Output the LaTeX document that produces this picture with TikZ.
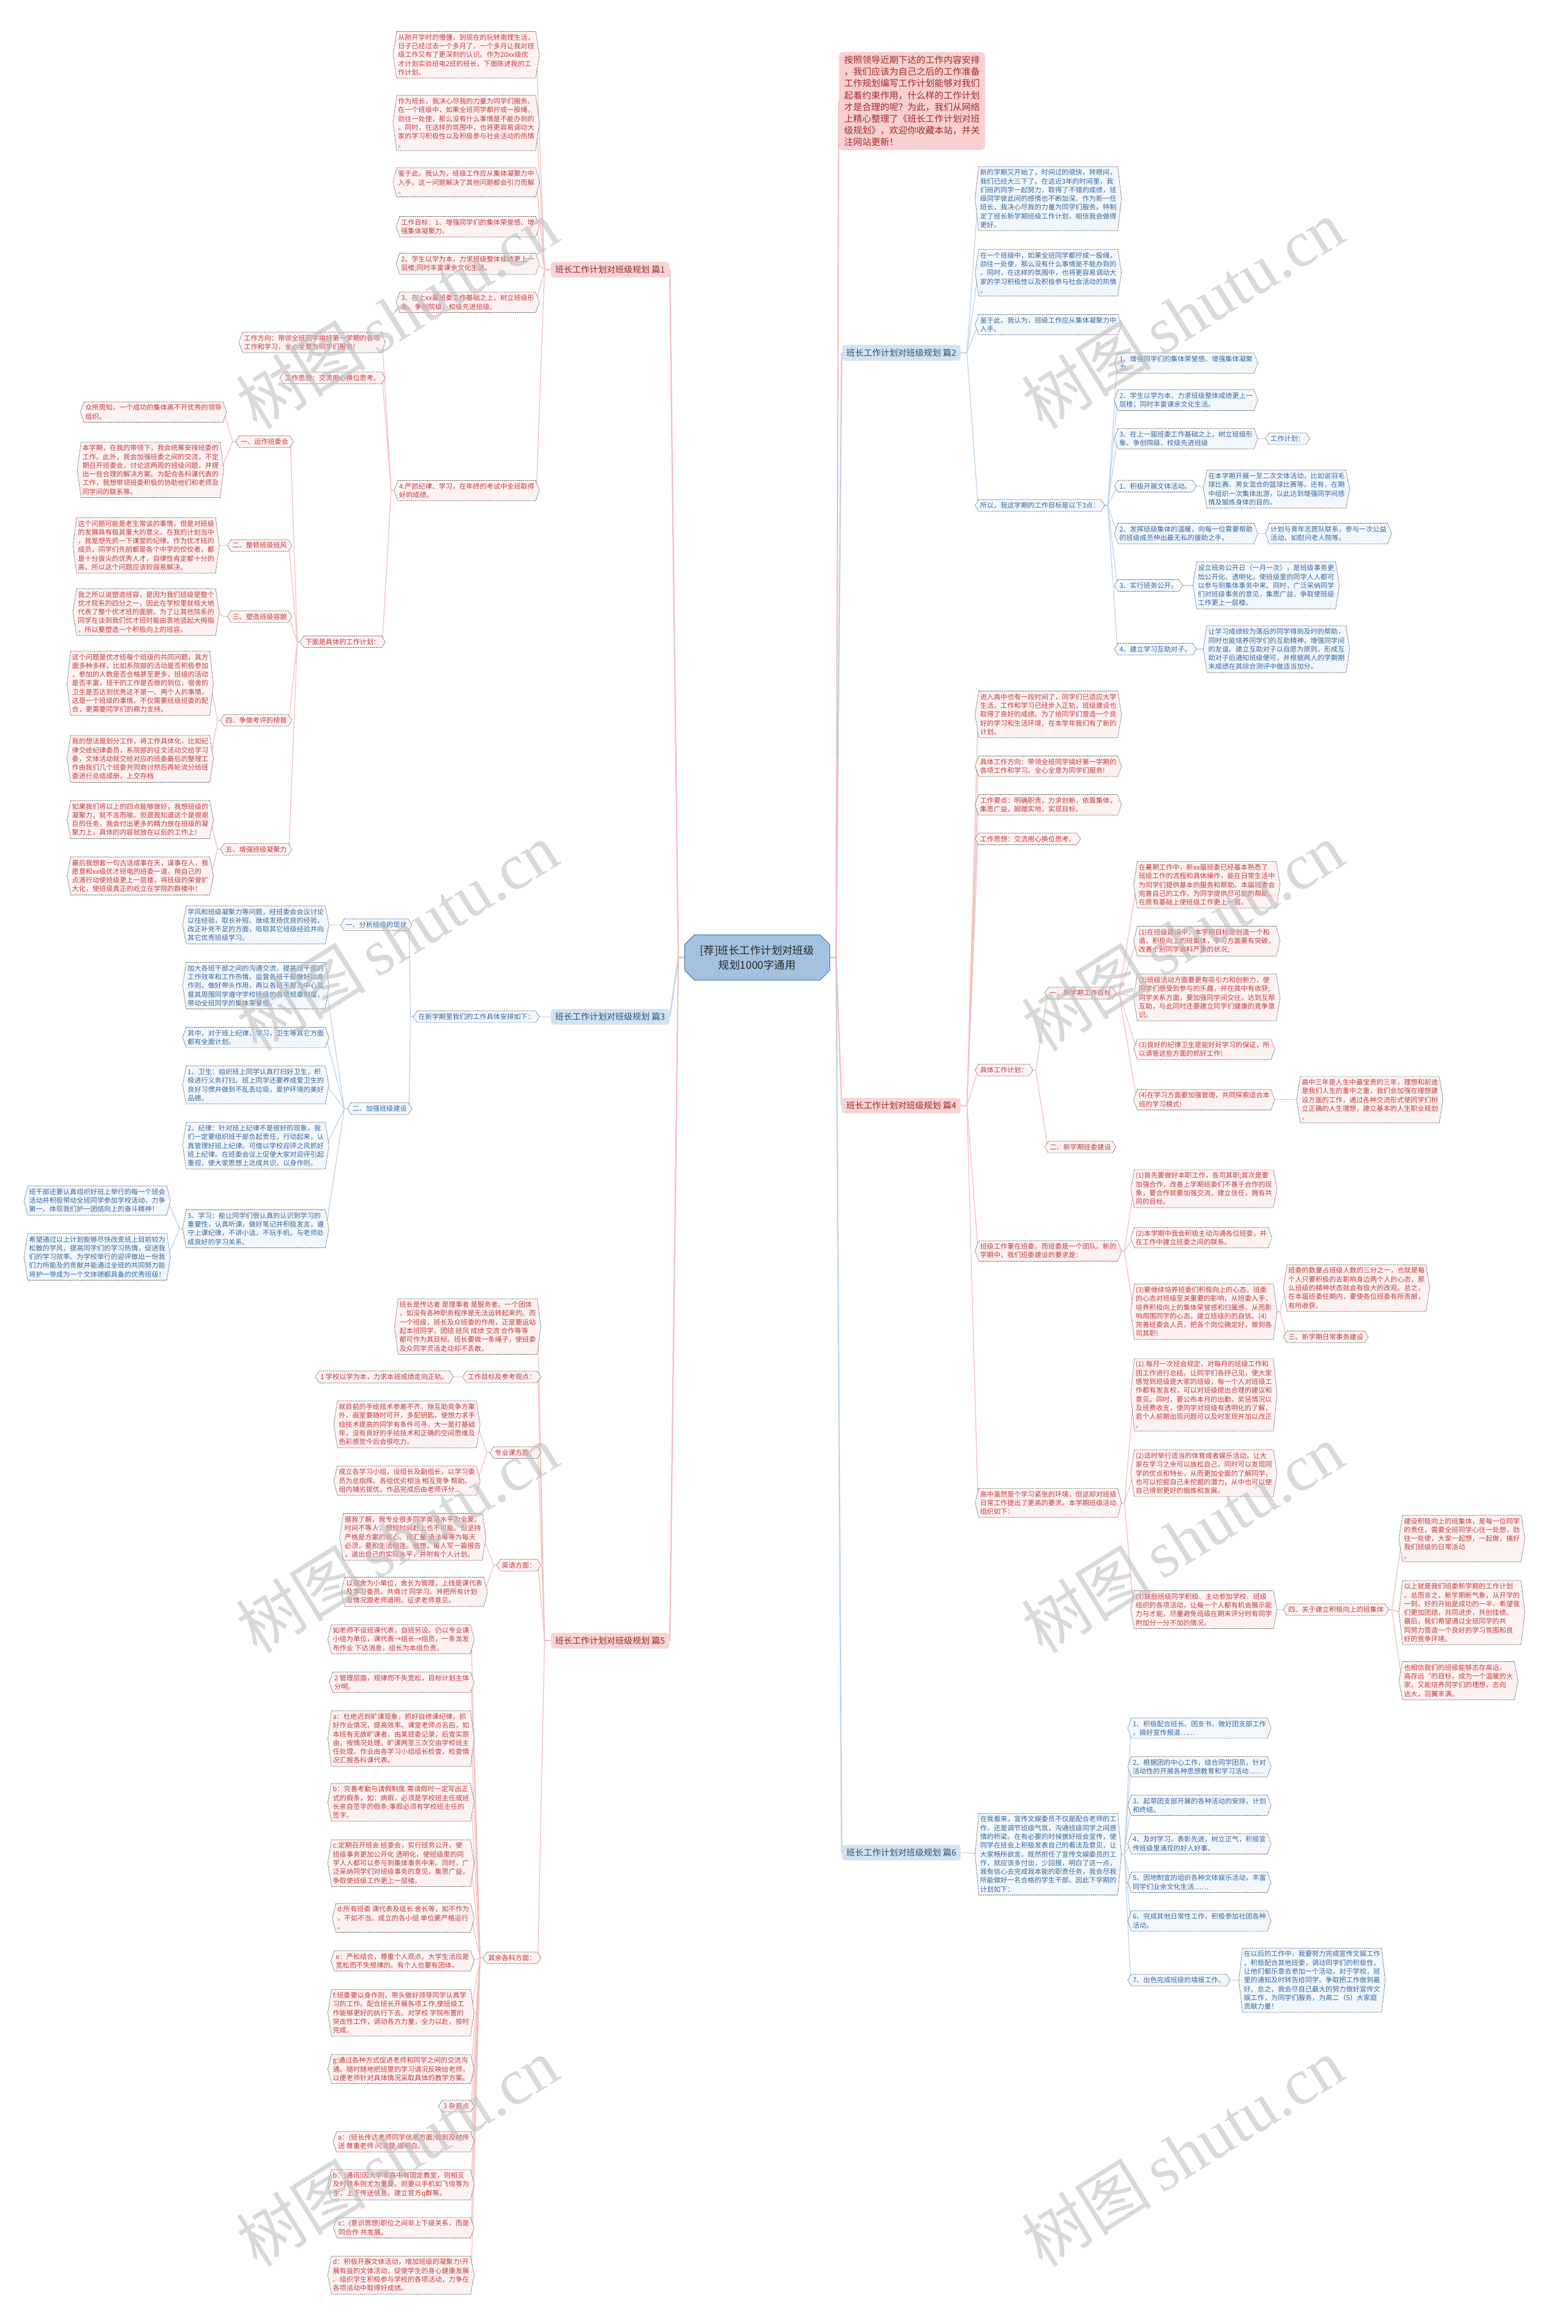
\documentclass[tikz,border=0pt]{standalone}
\usepackage{fontspec}
\setmainfont{Noto Sans CJK SC}
\newfontfamily\wmlatin{Liberation Serif}
\usetikzlibrary{backgrounds,shapes.misc}

\definecolor{pinktext}{HTML}{C83A3A}
\definecolor{bluetext}{HTML}{3568A0}
\definecolor{pinkfill}{HTML}{FDF2F2}
\definecolor{bluefill}{HTML}{F2F7FC}
\definecolor{pinkedge}{HTML}{F2BDBD}
\definecolor{blueedge}{HTML}{BCD2E6}
\definecolor{boxline}{HTML}{555555}
\definecolor{tagpink}{HTML}{F9D4D4}
\definecolor{tagpinktext}{HTML}{8E2B2B}
\definecolor{tagblue}{HTML}{D3E3F2}
\definecolor{tagbluetext}{HTML}{2D4F73}
\definecolor{rootfill}{HTML}{A4C2DF}
\definecolor{rootline}{HTML}{4F82C2}
\definecolor{introfill}{HTML}{F8D0D0}
\definecolor{introtext}{HTML}{A12A2A}

\newcommand{\boxfont}{\fontsize{4.6}{5.9}\selectfont}
\newcommand{\tagfont}{\fontsize{5.8}{7}\selectfont}
% hexagon frame round a text node
\newcommand{\hexof}[2]{\path[#1] ([xshift=0.5pt]#2.north west) -- ([xshift=-0.5pt]#2.north east) -- ([xshift=2pt]#2.east) -- ([xshift=-0.5pt]#2.south east) -- ([xshift=0.5pt]#2.south west) -- ([xshift=-2pt]#2.west) -- cycle;}

\tikzset{
  txt/.style={inner xsep=1.2pt, inner ysep=1.6pt, align=left, font=\boxfont},
  pinktxt/.style={txt, text=pinktext},
  bluetxt/.style={txt, text=bluetext},
  pinkhex/.style={fill=pinkfill, draw=boxline, line width=0.3pt, dash pattern=on 0.8pt off 0.5pt},
  bluehex/.style={fill=bluefill, draw=boxline, line width=0.3pt, dash pattern=on 0.8pt off 0.5pt},
  pinkline/.style={draw=pinkedge, line width=0.5pt},
  blueline/.style={draw=blueedge, line width=0.5pt},
  pinktag/.style={fill=tagpink, text=tagpinktext, rounded corners=2pt, inner xsep=3pt, inner ysep=2.6pt, font=\tagfont},
  bluetag/.style={fill=tagblue, text=tagbluetext, rounded corners=2pt, inner xsep=3pt, inner ysep=2.6pt, font=\tagfont},
  rootbox/.style={chamfered rectangle, chamfered rectangle xsep=3pt, fill=rootfill, draw=rootline, line width=0.5pt, minimum width=98pt, minimum height=28pt, align=center, text=black!85, font=\fontsize{7.2}{10}\selectfont},
  introbox/.style={fill=introfill, text=introtext, rounded corners=2.5pt, inner xsep=3.5pt, inner ysep=2.5pt, align=left, font=\fontsize{6.1}{7.9}\selectfont},
  watermark/.style={rotate=32, text=black!25, opacity=0.6, font=\fontsize{44}{44}\selectfont}
}

\begin{document}
\begin{tikzpicture}[x=1pt,y=-1pt]
\useasboundingbox (0,0) rectangle (1058,1568);

% centre and intro
\node[rootbox] (root) at (511,646) {[荐]班长工作计划对班级\\规划1000字通用};
\node[introbox, anchor=north west] (intro) at (566,35) {按照领导近期下达的工作内容安排\\，我们应该为自己之后的工作准备\\工作规划编写工作计划能够对我们\\起着约束作用，什么样的工作计划\\才是合理的呢？为此，我们从网络\\上精心整理了《班长工作计划对班\\级规划》，欢迎你收藏本站，并关\\注网站更新！};

% ---- 篇1 ----
\node[pinktag, anchor=east] (p1) at (452,182) {班长工作计划对班级规划 篇1};
\node[pinktxt, anchor=east] (a1) at (362,37) {从刚开学时的懵懂，到现在的玩转南理生活，\\日子已经过去一个多月了。一个多月让我对班\\级工作又有了更深刻的认识。作为20xx级优\\才计划实验班电2班的班长，下面陈述我的工\\作计划。};
\node[pinktxt, anchor=east] (a2) at (362,83) {作为班长，我决心尽我的力量为同学们服务。\\在一个班级中，如果全班同学都拧成一股绳，\\劲往一处使，那么没有什么事情是不能办到的\\。同时，在这样的氛围中，也将更容易调动大\\家的学习积极性以及积极参与社会活动的热情\\。};
\node[pinktxt, anchor=east] (a3) at (362,123) {鉴于此，我认为，班级工作应从集体凝聚力中\\入手。这一问题解决了其他问题都会引刃而解\\。};
\node[pinktxt, anchor=east] (a4) at (362,153) {工作目标：1、增强同学们的集体荣誉感、增\\强集体凝聚力。};
\node[pinktxt, anchor=east] (a5) at (362,178) {2、学生以学为本，力求班级整体成绩更上一\\层楼;同时丰富课余文化生活。};
\node[pinktxt, anchor=east] (a6) at (362,204) {3、在上xx届班委工作基础之上，树立班级形\\象、争创院级、校级先进班级。};
\node[pinktxt, anchor=east] (a7) at (362,331) {4.严抓纪律、学习，在年终的考试中全班取得\\好的成绩。};
\node[pinktxt, anchor=east] (b1) at (258,231) {工作方向：带领全班同学搞好第一学期的各项\\工作和学习，全心全意为同学们服务!};
\node[pinktxt, anchor=east] (b2) at (258,255) {工作思想：交流用心换位思考。};
\node[pinktxt, anchor=east] (b3) at (258,433) {下面是具体的工作计划：};
\node[pinktxt, anchor=east] (c1) at (196,298) {一、运作班委会};
\node[pinktxt, anchor=east] (c2) at (195,368) {二、整顿班级班风};
\node[pinktxt, anchor=east] (c3) at (195,416) {三、塑造班级容貌};
\node[pinktxt, anchor=east] (c4) at (195,486) {四、争做考评的榜首};
\node[pinktxt, anchor=east] (c5) at (195,573) {五、增强班级凝聚力};
\node[pinktxt, anchor=east] (d11) at (151,278) {众所周知，一个成功的集体离不开优秀的领导\\组织。};
\node[pinktxt, anchor=east] (d12) at (149,317) {本学期，在我的带领下，我会统筹安排班委的\\工作。此外，我会加强班委之间的交流，不定\\期召开班委会，讨论这两周的班级问题，并提\\出一些合理的解决方案。为配合各科课代表的\\工作，我想带领班委积极的协助他们和老师及\\同学间的联系等。};
\node[pinktxt, anchor=east] (d21) at (146,368) {这个问题可能是老生常谈的事情，但是对班级\\的发展具有极其重大的意义。在我的计划当中\\，我是想先抓一下课堂的纪律。作为优才班的\\成员，同学们先前都是各个中学的佼佼者，都\\是十分拔尖的优秀人才，自律性肯定都十分的\\高，所以这个问题应该较容易解决。};
\node[pinktxt, anchor=east] (d31) at (146,413) {我之所以说塑造班容，是因为我们班级是整个\\优才院系的四分之一，因此在学校里就极大地\\代表了整个优才班的面貌。为了让其他院系的\\同学在谈到我们优才班时能由衷地竖起大拇指\\，所以要塑造一个积极向上的班容。};
\node[pinktxt, anchor=east] (d41) at (142,461) {这个问题是优才班每个班级的共同问题，其方\\面多种多样，比如系院部的活动是否积极参加\\，参加的人数是否合格甚至更多，班级的活动\\是否丰富，班干的工作是否做的到位，宿舍的\\卫生是否达到优秀这不是一、两个人的事情，\\这是一个班级的事情。不仅需要班级班委的配\\合，更需要同学们的鼎力支持。};
\node[pinktxt, anchor=east] (d42) at (142,512) {我的想法是划分工作，将工作具体化，比如纪\\律交给纪律委员，系院部的征文活动交给学习\\委，文体活动就交给对应的班委最后的整理工\\作由我们几个班委共同商讨然后再轮流分给班\\委进行总结成册，上交存档};
\node[pinktxt, anchor=east] (d51) at (142,553) {如果我们将以上的四点能够做好，我想班级的\\凝聚力，就不言而喻。但是我知道这个是很艰\\巨的任务，我会付出更多的精力放在班级的凝\\聚力上，具体的内容就放在以后的工作上!};
\node[pinktxt, anchor=east] (d52) at (142,591) {最后我想套一句古话成事在天，谋事在人，我\\愿意和xx级优才班电的班委一道，用自己的\\点滴行动使班级更上一层楼，将班级的荣誉扩\\大化，使班级真正的屹立在学院的群楼中！};

% ---- 篇2 ----
\node[bluetag, anchor=west] (p2) at (568,238) {班长工作计划对班级规划 篇2};
\node[bluetxt, anchor=west] (e1) at (660,134) {新的学期又开始了，时间过的很快，转眼间，\\我们已经大三下了。在这近3年的时间里，我\\们班的同学一起努力，取得了不错的成绩，班\\级同学彼此间的感情也不断加深。作为新一任\\班长，我决心尽我的力量为同学们服务。特制\\定了班长新学期班级工作计划，相信我会做得\\更好。};
\node[bluetxt, anchor=west] (e2) at (660,184) {在一个班级中，如果全班同学都拧成一股绳，\\劲往一处使，那么没有什么事情是不能办到的\\。同时，在这样的氛围中，也将更容易调动大\\家的学习积极性以及积极参与社会活动的热情\\。};
\node[bluetxt, anchor=west] (e3) at (660,219) {鉴于此，我认为，班级工作应从集体凝聚力中\\入手。};
\node[bluetxt, anchor=west] (e4) at (660,341) {所以，我这学期的工作目标是以下3点：};
\node[bluetxt, anchor=west] (f1) at (754,245) {1、增强同学们的集体荣誉感、增强集体凝聚\\力。};
\node[bluetxt, anchor=west] (f2) at (754,270) {2、学生以学为本，力求班级整体成绩更上一\\层楼；同时丰富课余文化生活。};
\node[bluetxt, anchor=west] (f3) at (754,296) {3、在上一届班委工作基础之上，树立班级形\\象、争创院级、校级先进班级};
\node[bluetxt, anchor=west] (f4) at (754,328) {1、积极开展文体活动。};
\node[bluetxt, anchor=west] (f5) at (754,360) {2、发挥班级集体的温暖，向每一位需要帮助\\的班级成员伸出最无私的援助之手。};
\node[bluetxt, anchor=west] (f6) at (754,395) {3、实行班务公开。};
\node[bluetxt, anchor=west] (f7) at (754,438) {4、建立学习互助对子。};
\node[bluetxt, anchor=west] (g3) at (856,296) {工作计划：};
\node[bluetxt, anchor=west] (g4) at (814,330) {在本学期开展一至二次文体活动，比如说羽毛\\球比赛、男女混合的篮球比赛等，还有，在期\\中组织一次集体出游，以此达到增强同学间感\\情及锻炼身体的目的。};
\node[bluetxt, anchor=west] (g5) at (856,360) {计划与青年志愿队联系，参与一次公益\\活动，如慰问老人院等。};
\node[bluetxt, anchor=west] (g6) at (807,395) {设立班务公开日（一月一次），是班级事务更\\加公开化、透明化，使班级里的同学人人都可\\以参与到集体事务中来。同时，广泛采纳同学\\们对班级事务的意见，集思广益，争取使班级\\工作更上一层楼。};
\node[bluetxt, anchor=west] (g7) at (814,438) {让学习成绩较为落后的同学得到及时的帮助，\\同时也能培养同学们的互助精神，增强同学间\\的友谊。建立互助对子以自愿为原则，形成互\\助对子后通知班级便可，并根据两人的学期期\\末成绩在其综合测评中做适当加分。};

% ---- 篇3 ----
\node[bluetag, anchor=east] (p3) at (452,686) {班长工作计划对班级规划 篇3};
\node[bluetxt, anchor=east] (h1) at (362,686) {在新学期里我们的工作具体安排如下：};
\node[bluetxt, anchor=east] (i1) at (276,624) {一、分析班级的现状};
\node[bluetxt, anchor=east] (i2) at (276,748) {二、加强班级建设};
\node[bluetxt, anchor=east] (j11) at (220,624) {学风和班级凝聚力等问题，经班委会会议讨论\\以往经验，取长补短。继续发扬优良的经验，\\改正补充不足的方面，吸取其它班级经验并向\\其它优秀班级学习。};
\node[bluetxt, anchor=east] (j21) at (220,665) {加大各班干部之间的沟通交流，提高班干部的\\工作效率和工作热情。监督各班干部做好以身\\作则，做好带头作用，再以各班干部为中心监\\督其周围同学遵守学校班级的各项规章制度，\\带动全班同学的集体荣誉感。};
\node[bluetxt, anchor=east] (j22) at (220,700) {其中，对于班上纪律，学习，卫生等其它方面\\都有全面计划。};
\node[bluetxt, anchor=east] (j23) at (220,732) {1、卫生：组织班上同学认真打扫好卫生，积\\极进行义务打扫。班上同学还要养成爱卫生的\\良好习惯并做到不乱丢垃圾，爱护环境的美好\\品德。};
\node[bluetxt, anchor=east] (j24) at (220,773) {2、纪律：针对班上纪律不是很好的现象，我\\们一定要组织班干部负起责任，行动起来，认\\真管理好班上纪律。可借以学校迎评之风抓好\\班上纪律。在班委会议上促使大家对迎评引起\\重视，使大家思想上达成共识，以身作则。};
\node[bluetxt, anchor=east] (j25) at (220,829) {3、学习：能让同学们很认真的认识到学习的\\重要性，认真听课，做好笔记并积极发言，遵\\守上课纪律，不讲小话，不玩手机，与老师处\\成良好的学习关系。};
\node[bluetxt, anchor=east] (k1) at (113,810) {班干部还要认真组织好班上举行的每一个班会\\活动并积极带动全班同学参加学校活动，力争\\第一。体现我们护一团结向上的奋斗精神！};
\node[bluetxt, anchor=east] (k2) at (113,848) {希望通过以上计划能够尽快改变班上目前较为\\松散的学风，提高同学们的学习热情，促进我\\们的学习效率。为学校举行的迎评做出一份我\\们力所能及的贡献并能通过全班的共同努力能\\将护一带成为一个文体德都具备的优秀班级！};

% ---- 篇4 ----
\node[pinktag, anchor=west] (p4) at (568,746) {班长工作计划对班级规划 篇4};
\node[pinktxt, anchor=west] (l1) at (660,482) {进入高中也有一段时间了，同学们已适应大学\\生活，工作和学习已经步入正轨，班级建设也\\取得了良好的成绩。为了给同学们营造一个良\\好的学习和生活环境，在本学年我们有了新的\\计划。};
\node[pinktxt, anchor=west] (l2) at (660,517) {具体工作方向：带领全班同学搞好第一学期的\\各项工作和学习。全心全意为同学们服务!};
\node[pinktxt, anchor=west] (l3) at (660,543) {工作要点：明确职责，力求创新，依靠集体，\\集思广益，脚踏实地，实现目标。};
\node[pinktxt, anchor=west] (l4) at (660,566) {工作思想：交流用心换位思考。};
\node[pinktxt, anchor=west] (l5) at (660,722) {具体工作计划：};
\node[pinktxt, anchor=west] (l6) at (660,844) {班级工作重在班委，而班委是一个团队。新的\\学期中，我们班委建设的要求是：};
\node[pinktxt, anchor=west] (l7) at (660,1014) {高中虽然是个学习紧张的环境，但这却对班级\\日常工作提出了更高的要求。本学期班级活动\\组织如下：};
\node[pinktxt, anchor=west] (m1) at (707,670) {一、新学期工作目标};
\node[pinktxt, anchor=west] (m2) at (707,774) {二、新学期班委建设};
\node[pinktxt, anchor=west] (n1) at (767,597) {在暑期工作中，新xx届班委已经基本熟悉了\\班级工作的流程和具体操作，能在日常生活中\\为同学们提供基本的服务和帮助。本届班委会\\完善自己的工作，为同学提供尽可能的帮助，\\在原有基础上使班级工作更上一层。};
\node[pinktxt, anchor=west] (n2) at (767,635) {(1)在班级建设中，本学期目标是创造一个和\\谐，积极向上的班集体，学习方面要有突破，\\改善个别同学偏科严重的状况;};
\node[pinktxt, anchor=west] (n3) at (767,673) {(2)班级活动方面要更有吸引力和创新力，使\\同学们感受到参与的乐趣，并在其中有收获;\\同学关系方面，要加强同学间交往，达到互帮\\互助，与此同时还要建立同学们健康的竞争意\\识。};
\node[pinktxt, anchor=west] (n4) at (767,708) {(3)良好的纪律卫生是能好好学习的保证，所\\以请管这些方面的抓好工作!};
\node[pinktxt, anchor=west] (n5) at (767,742) {(4)在学习方面要加强管理，共同探索适合本\\班的学习模式!};
\node[pinktxt, anchor=west] (o5) at (877,742) {高中三年是人生中最宝贵的三年，理想和前途\\是我们人生的重中之重，我们会加强在理想建\\设方面的工作，通过各种交流形式使同学们树\\立正确的人生理想，建立基本的人生职业规划\\。};
\node[pinktxt, anchor=west] (q1) at (765,802) {(1)首先要做好本职工作，各司其职;其次是要\\加强合作，改善上学期班委们不善于合作的现\\象，要合作就要加强交流，建立信任，拥有共\\同的目标。};
\node[pinktxt, anchor=west] (q2) at (765,835) {(2)本学期中我会积极主动沟通各位班委，并\\在工作中建立班委之间的联系。};
\node[pinktxt, anchor=west] (q3) at (765,885) {(3)要继续培养班委们积极向上的心态，班委\\的心态对班级至关重要的影响，从班委入手，\\培养积极向上的集体荣誉感和归属感，从而影\\响周围同学的心态，建立班级的的自信。(4)\\完善班委会人员，把各个岗位确定好，做到各\\司其职!};
\node[pinktxt, anchor=west] (r1) at (868,869) {班委的数量占班级人数的三分之一，也就是每\\个人只要积极的去影响身边两个人的心态，那\\么班级的精神状态就会有极大的改观。总之，\\在本届班委任期内，要使各位班委有所贡献，\\有所收获。};
\node[pinktxt, anchor=west] (r2) at (868,902) {三、新学期日常事务建设};
\node[pinktxt, anchor=west] (s1) at (765,941) {(1).每月一次班会规定，对每月的班级工作和\\团工作进行总结，让同学们各抒己见，使大家\\感觉到班级是大家的班级，每一个人对班级工\\作都有发言权，可以对班级提出合理的建议和\\意见。同时，要公布本月的出勤，奖惩情况以\\及班费收支，使同学对班级有透明化的了解，\\若个人前期出现问题可以及时发现并加以改正\\。};
\node[pinktxt, anchor=west] (s2) at (765,994) {(2)适时举行适当的体育或者娱乐活动，让大\\家在学习之余可以放松自己，同时可以发现同\\学的优点和特长，从而更加全面的了解同学，\\也可以挖掘自己未挖掘的潜力，从中也可以使\\自己得到更好的锻炼和发展。};
\node[pinktxt, anchor=west] (s3) at (765,1086) {(3)鼓励班级同学积极、主动参加学校、班级\\组织的各项活动，让每一个人都有机会展示能\\力与才能，尽量避免班级在期末评分时有同学\\附加分一分不加的情况。};
\node[pinktxt, anchor=west] (t1) at (868,1086) {四、关于建立积极向上的班集体};
\node[pinktxt, anchor=west] (u1) at (946,1038) {建设积极向上的班集体，是每一位同学\\的责任，需要全班同学心往一处想，劲\\往一处使，大家一起想，一起做，搞好\\我们班级的日常活动\\。};
\node[pinktxt, anchor=west] (u2) at (946,1088) {以上就是我们班委新学期的工作计划\\。总而言之，新学期新气象，从开学的\\一刻，好的开始是成功的一半，希望我\\们更加团结，共同进步，共创佳绩。\\最后，我们希望通过全班同学的共\\同努力营造一个良好的学习氛围和良\\好的竞争环境。};
\node[pinktxt, anchor=west] (u3) at (946,1134) {也相信我们的班级能够志存高远，\\高存远“的目标，成为一个温暖的大\\家，又能培养同学们的理想，志向\\远大，羽翼丰满。};

% ---- 篇5 ----
\node[pinktag, anchor=east] (p5) at (452,1107) {班长工作计划对班级规划 篇5};
\node[pinktxt, anchor=east] (v1) at (363,895) {班长是传达者 是理事者 是服务者。一个团体\\，如没有各种职务程序是无法运转起来的。而\\一个班级，班长及众班委的作用，正是要运站\\起本班同学，团结 班风 成绩 交流 合作等等\\都可作为其目标。班长要做一条绳子，使班委\\及众同学灵活走动却不丢散。};
\node[pinktxt, anchor=east] (v2) at (363,929) {工作目标及参考观点：};
\node[pinktxt, anchor=east] (v3) at (363,980) {专业课方面：};
\node[pinktxt, anchor=east] (v4) at (363,1056) {英语方面：};
\node[pinktxt, anchor=east] (v5) at (363,1321) {其余各科方面：};
\node[pinktxt, anchor=east] (w1) at (304,929) {1 学校以学为本，力求本班成绩走向正轨。};
\node[pinktxt, anchor=east] (w31) at (322,961) {就目前的手绘技术参差不齐。除互助竞争方案\\外，画室要随时可开，多配钥匙，使想力求手\\绘技术提高的同学有条件可寻。大一是打基础\\年，没有良好的手绘技术和正确的空间思维及\\色彩感觉今后会很吃力。};
\node[pinktxt, anchor=east] (w32) at (322,999) {成立各学习小组，设组长及副组长，以学习委\\员为总指挥。各组优劣相当 相互竞争 帮助。\\组内辅劣拔优。作品完成后由老师评分...};
\node[pinktxt, anchor=east] (w41) at (326,1037) {据我了解，我专业很多同学英语水平为全蒙。\\时间不等人，想短时间赶上也不可能。但坚持\\严格是方案的核心。词汇量 语法等等为每天\\必须，要和生活相连。我想，每人写一篇报告\\，道出自己的实际水平，并附有个人计划。};
\node[pinktxt, anchor=east] (w42) at (327,1074) {以宿舍为小单位，舍长为管理，上线是课代表\\及学习委员。共商讨 同学习。并把所有计划\\及情况跟老师道明，征求老师意见。};
\node[pinktxt, anchor=east] (x1) at (318,1106) {如老师不设班课代表，自班另设。仍以专业课\\小组为单位，课代表→组长→组员，一条龙发\\布作业 下达消息，组长为本组负责。};
\node[pinktxt, anchor=east] (x2) at (318,1135) {2 管理层面，规律而不失宽松，目标计划主体\\分明。};
\node[pinktxt, anchor=east] (x3) at (318,1173) {a：杜绝迟到旷课现象，抓好自修课纪律，抓\\好作业情况，提高效率。课堂老师点名后，如\\本班有无故旷课者，由某班委记录，后查实原\\由，按情况处理。旷课两至三次交由学校班主\\任处理。作业由各学习小组组长检查，检查情\\况汇报各科课代表。};
\node[pinktxt, anchor=east] (x4) at (318,1216) {b：完善考勤与请假制度.需请假时一定写出正\\式的假条，如：病假，必须是学校班主任或班\\长亲自签字的假条;事假必须有学校班主任的\\签字。};
\node[pinktxt, anchor=east] (x5) at (318,1257) {c:定期召开班会 班委会，实行班务公开。使\\班级事务更加公开化 透明化，使班级里的同\\学人人都可以参与到集体事务中来。同时，广\\泛采纳同学们对班级事务的意见，集思广益，\\争取使班级工作更上一层楼。};
\node[pinktxt, anchor=east] (x6) at (318,1294) {d:所有班委 课代表及组长 舍长等，如不作为\\，不如不当。成立的各小组 单位要严格运行\\。};
\node[pinktxt, anchor=east] (x7) at (318,1323) {e：严松结合，尊重个人观点。大学生活应是\\宽松而不失规律的。有个人也要有团体。};
\node[pinktxt, anchor=east] (x8) at (318,1358) {f:班委要以身作则，带头做好领导同学认真学\\习的工作。配合班长开展各项工作,使班级工\\作能够更好的执行下去。对学校 学院布置的\\突击性工作，调动各方力量，全力以赴，按时\\完成。};
\node[pinktxt, anchor=east] (x9) at (318,1396) {g:通过各种方式促进老师和同学之间的交流沟\\通。随时随地把班里的学习请况反映给老师，\\以便老师针对具体情况采取具体的教学方案。};
\node[pinktxt, anchor=east] (x10) at (318,1421) {3 杂观点};
\node[pinktxt, anchor=east] (x11) at (318,1445) {a：(班长传达老师同学信息方面)做到及时传\\送 尊重老师 问清楚 道明白。};
\node[pinktxt, anchor=east] (x12) at (318,1474) {b：(通讯)因大学非高中有固定教室，则相互\\及时联系则尤为重要。则要以手机如飞信等为\\主，上下传送信息。建立官方q群等。};
\node[pinktxt, anchor=east] (x13) at (318,1503) {c：(意识思想)职位之间非上下级关系，而是\\同合作 共发展。};
\node[pinktxt, anchor=east] (x14) at (318,1535) {d：积极开展文体活动，增加班级的凝聚力!开\\展有益的文体活动，促使学生的身心健康发展\\。组织学生积极参与学校的各项活动，力争在\\各项活动中取得好成绩。};

% ---- 篇6 ----
\node[bluetag, anchor=west] (p6) at (568,1250) {班长工作计划对班级规划 篇6};
\node[bluetxt, anchor=west] (y1) at (660,1251) {在我看来，宣传文娱委员不仅是配合老师的工\\作，还是调节班级气氛，沟通班级同学之间感\\情的桥梁。在有必要的时候做好班会宣传，使\\同学在班会上积极发表自己的看法及意见，让\\大家畅所欲言。既然担任了宣传文娱委员的工\\作，就应该多付出，少回报，明白了这一点，\\我有信心去完成我本能的职责任务，我会尽我\\所能做好一名合格的学生干部。因此下学期的\\计划如下：};
\node[bluetxt, anchor=west] (z1) at (763,1166) {1、积极配合班长、团支书，做好团支部工作\\，搞好宣传报道……};
\node[bluetxt, anchor=west] (z2) at (763,1192) {2、根据团的中心工作，结合同学团员，针对\\活动性的开展各种思想教育和学习活动……};
\node[bluetxt, anchor=west] (z3) at (763,1218) {3、起草团支部开展的各种活动的安排，计划\\和终结。};
\node[bluetxt, anchor=west] (z4) at (763,1244) {4、及时学习，表彰先进，树立正气，积极宣\\传班级里涌现的好人好事。};
\node[bluetxt, anchor=west] (z5) at (763,1270) {5、因地制宜的组织各种文体娱乐活动，丰富\\同学们业余文化生活……};
\node[bluetxt, anchor=west] (z6) at (763,1296) {6、完成其他日常性工作，积极参加社团各种\\活动。};
\node[bluetxt, anchor=west] (z7) at (763,1336) {7、出色完成班级的墙报工作。};
\node[bluetxt, anchor=west] (z8) at (838,1336) {在以后的工作中，我要努力完成宣传文娱工作\\，积极配合其他班委，调动同学们的积极性，\\让他们都乐意去参加一个活动，对于学校，班\\里的通知及时转告给同学。争取把工作做到最\\好。总之，我会尽自己最大的努力做好宣传文\\娱工作，为同学们服务，为高二（5）大家庭\\贡献力量！};

% connectors and frames under the texts
\begin{scope}[on background layer]
  \foreach \c in {p1,p5}
    \draw[pinkline, line width=0.9pt] (root.west) -- ++(-4,0) -- (\c.east);
  \draw[blueline, line width=0.9pt] (root.west) -- ++(-4,0) -- (p3.east);
  \foreach \c in {p2,p6}
    \draw[blueline, line width=0.9pt] (root.east) -- ++(4,0) -- (\c.west);
  \foreach \c in {p4,intro}
    \draw[pinkline, line width=0.9pt] (root.east) -- ++(4,0) -- (\c.west);
  % pink, to the left
  \foreach \p/\c in {p1/a1,p1/a2,p1/a3,p1/a4,p1/a5,p1/a6,p1/a7,a7/b1,a7/b2,a7/b3,
      b3/c1,b3/c2,b3/c3,b3/c4,b3/c5,c1/d11,c1/d12,c2/d21,c3/d31,c4/d41,c4/d42,c5/d51,c5/d52,
      p5/v1,p5/v2,p5/v3,p5/v4,p5/v5,v2/w1,v3/w31,v3/w32,v4/w41,v4/w42,
      v5/x1,v5/x2,v5/x3,v5/x4,v5/x5,v5/x6,v5/x7,v5/x8,v5/x9,v5/x10,v5/x11,v5/x12,v5/x13,v5/x14}
    \draw[pinkline] (\p.west) -- ++(-4,0) -- (\c.east);
  % pink, to the right
  \foreach \p/\c in {p4/l1,p4/l2,p4/l3,p4/l4,p4/l5,p4/l6,p4/l7,l5/m1,l5/m2,
      m1/n1,m1/n2,m1/n3,m1/n4,m1/n5,n5/o5,l6/q1,l6/q2,l6/q3,q3/r1,q3/r2,
      l7/s1,l7/s2,l7/s3,s3/t1,t1/u1,t1/u2,t1/u3}
    \draw[pinkline] (\p.east) -- ++(4,0) -- (\c.west);
  % blue, to the left
  \foreach \p/\c in {p3/h1,h1/i1,h1/i2,i1/j11,i2/j21,i2/j22,i2/j23,i2/j24,i2/j25,j25/k1,j25/k2}
    \draw[blueline] (\p.west) -- ++(-4,0) -- (\c.east);
  % blue, to the right
  \foreach \p/\c in {p2/e1,p2/e2,p2/e3,p2/e4,e4/f1,e4/f2,e4/f3,e4/f4,e4/f5,e4/f6,e4/f7,
      f3/g3,f4/g4,f5/g5,f6/g6,f7/g7,p6/y1,y1/z1,y1/z2,y1/z3,y1/z4,y1/z5,y1/z6,y1/z7,z7/z8}
    \draw[blueline] (\p.east) -- ++(4,0) -- (\c.west);
  % frames
  \foreach \n in {a1,a2,a3,a4,a5,a6,a7,b1,b2,b3,c1,c2,c3,c4,c5,d11,d12,d21,d31,d41,d42,d51,d52,
      l1,l2,l3,l4,l5,l6,l7,m1,m2,n1,n2,n3,n4,n5,o5,q1,q2,q3,r1,r2,s1,s2,s3,t1,u1,u2,u3,
      v1,v2,v3,v4,v5,w1,w31,w32,w41,w42,x1,x2,x3,x4,x5,x6,x7,x8,x9,x10,x11,x12,x13,x14}
    {\hexof{pinkhex}{\n}}
  \foreach \n in {e1,e2,e3,e4,f1,f2,f3,f4,f5,f6,f7,g3,g4,g5,g6,g7,
      h1,i1,i2,j11,j21,j22,j23,j24,j25,k1,k2,y1,z1,z2,z3,z4,z5,z6,z7,z8}
    {\hexof{bluehex}{\n}}
\end{scope}

% watermark
\foreach \wx/\wy [count=\k] in {268/212,798/212,268/632,798/632,268/1038,798/1038,268/1452,798/1452}
  \node[watermark] (wm\k) at (\wx,\wy) {树图\,{\wmlatin shutu.cn}};
\end{tikzpicture}
\end{document}
